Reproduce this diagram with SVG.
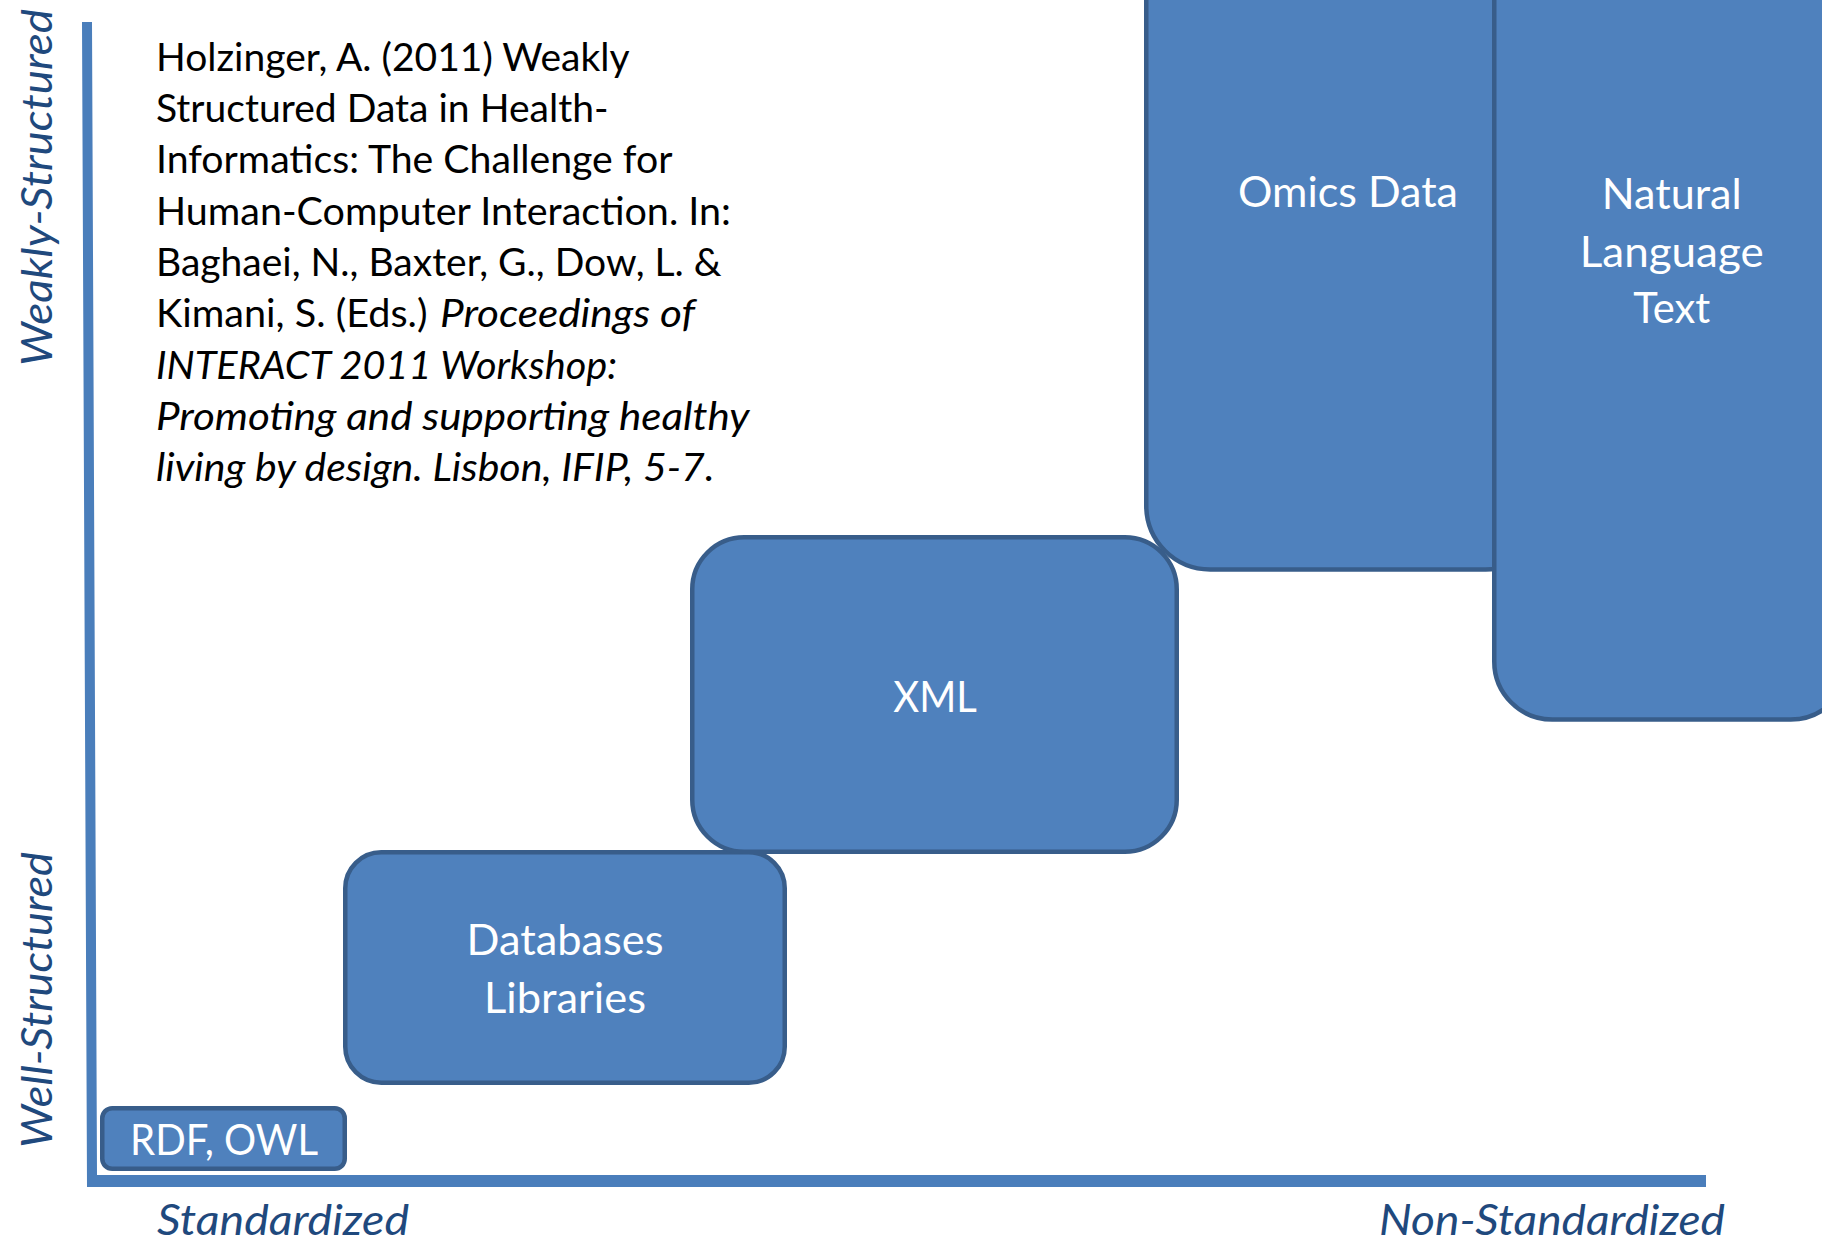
<svg xmlns="http://www.w3.org/2000/svg" width="1822" height="1244" viewBox="0 0 1822 1244">
  <style>
    .box { fill: #4F81BD; stroke: #385D8A; stroke-width: 4.5; }
    .lbl { font-family: Lato, "Open Sans", "Liberation Sans", sans-serif; font-size: 42px; fill: #FFFFFF; text-anchor: middle; }
    .cite { font-family: Lato, "Open Sans", "Liberation Sans", sans-serif; font-size: 38px; fill: #000000; }
    .it { font-style: italic; }
    .axis-lbl { font-family: Lato, "Open Sans", "Liberation Sans", sans-serif; font-size: 42px; font-style: italic; fill: #1F497D; }
    .axis { fill: #4A7EBB; }
  </style>

  <rect width="1822" height="1244" fill="#FFFFFF"/>

  <!-- axes -->
  <g id="axes">
    <polygon class="axis" points="82,22 92,22 97,1175 1706,1175 1706,1187 87,1187"/>
  </g>

  <!-- axis captions -->
  <g id="axis-labels">
    <text class="axis-lbl" transform="translate(52,366) rotate(-90)" textLength="357" lengthAdjust="spacingAndGlyphs">Weakly-Structured</text>
    <text class="axis-lbl" transform="translate(52,1148) rotate(-90)" textLength="296" lengthAdjust="spacingAndGlyphs">Well-Structured</text>
    <text class="axis-lbl" x="157" y="1235" textLength="252" lengthAdjust="spacingAndGlyphs">Standardized</text>
    <text class="axis-lbl" x="1379" y="1235" textLength="346" lengthAdjust="spacingAndGlyphs">Non-Standardized</text>
  </g>

  <!-- reference note -->
  <g id="citation">
    <text class="cite" x="156" y="70.7" textLength="473.5" lengthAdjust="spacingAndGlyphs">Holzinger, A. (2011) Weakly</text>
    <text class="cite" x="156" y="122" textLength="452.5" lengthAdjust="spacingAndGlyphs">Structured Data in Health-</text>
    <text class="cite" x="156" y="173.3" textLength="516.5" lengthAdjust="spacingAndGlyphs">Informatics: The Challenge for</text>
    <text class="cite" x="156" y="224.6" textLength="575" lengthAdjust="spacingAndGlyphs">Human-Computer Interaction. In:</text>
    <text class="cite" x="156" y="275.9" textLength="565.5" lengthAdjust="spacingAndGlyphs">Baghaei, N., Baxter, G., Dow, L. &amp;</text>
    <text class="cite" x="156" y="327.2" textLength="271.5" lengthAdjust="spacingAndGlyphs">Kimani, S. (Eds.)</text>
    <text class="cite it" x="440" y="327.2" textLength="255" lengthAdjust="spacingAndGlyphs">Proceedings of</text>
    <text class="cite it" x="156" y="378.5" textLength="461" lengthAdjust="spacingAndGlyphs">INTERACT 2011 Workshop:</text>
    <text class="cite it" x="156" y="429.8" textLength="593.5" lengthAdjust="spacingAndGlyphs">Promoting and supporting healthy</text>
    <text class="cite it" x="156" y="481.1" textLength="558.5" lengthAdjust="spacingAndGlyphs">living by design. Lisbon, IFIP, 5-7.</text>
  </g>

  <!-- data categories -->
  <g id="node-rdf">
    <rect class="box" x="102.25" y="1108.25" width="242.5" height="60.5" rx="10" ry="10"/>
    <text class="lbl" x="224" y="1155" textLength="188" lengthAdjust="spacingAndGlyphs">RDF, OWL</text>
  </g>

  <g id="node-databases">
    <rect class="box" x="345.25" y="852.25" width="439.5" height="230.5" rx="36" ry="36"/>
    <text class="lbl" x="565" y="955" textLength="197" lengthAdjust="spacingAndGlyphs">Databases</text>
    <text class="lbl" x="565" y="1012.7" textLength="162" lengthAdjust="spacingAndGlyphs">Libraries</text>
  </g>

  <g id="node-xml">
    <rect class="box" x="692.25" y="537.25" width="484.5" height="314.5" rx="52" ry="52"/>
    <text class="lbl" x="935" y="711.7" textLength="83.5" lengthAdjust="spacingAndGlyphs">XML</text>
  </g>

  <g id="node-omics">
    <rect class="box" x="1146.25" y="-100" width="403.5" height="669.5" rx="64" ry="64"/>
    <text class="lbl" x="1348" y="207.3" textLength="220" lengthAdjust="spacingAndGlyphs">Omics Data</text>
  </g>

  <g id="node-natural-language">
    <rect class="box" x="1494.25" y="-100" width="354.5" height="819.5" rx="58" ry="58"/>
    <text class="lbl" x="1671.7" y="209.3" textLength="140" lengthAdjust="spacingAndGlyphs">Natural</text>
    <text class="lbl" x="1671.7" y="267.3" textLength="184" lengthAdjust="spacingAndGlyphs">Language</text>
    <text class="lbl" x="1671.7" y="323.3" textLength="77" lengthAdjust="spacingAndGlyphs">Text</text>
  </g>

  <!-- connectors: none drawn between the categories -->
  <g id="connectors"/>
</svg>
